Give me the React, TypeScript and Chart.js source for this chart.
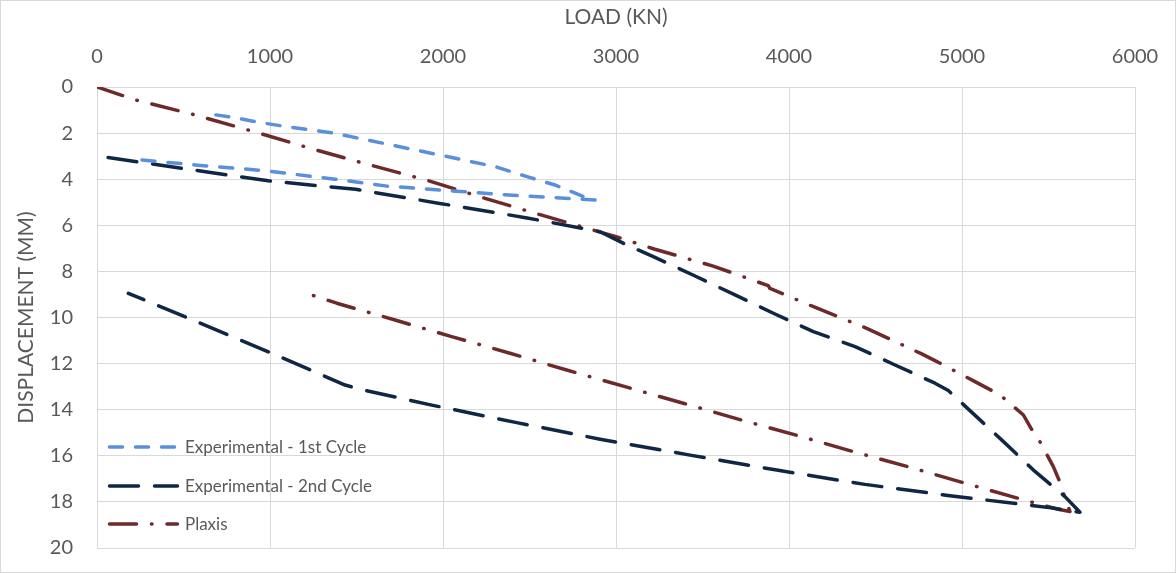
import React, { useEffect, useRef } from 'react';
import { Chart, registerables } from 'chart.js';

Chart.register(...registerables);

const X_TITLE = 'LOAD (KN)';
const Y_TITLE = 'DISPLACEMENT (MM)';
const X_TICKS = [0, 1000, 2000, 3000, 4000, 5000, 6000];
const Y_TICKS = [0, 2, 4, 6, 8, 10, 12, 14, 16, 18, 20];
const SERIES_NAMES = ['Experimental - 1st Cycle', 'Experimental - 2nd Cycle', 'Plaxis'];
const SERIES_COLORS = ['#5A8FDB', '#0F2744', '#6E2A2A'];
const SERIES_DASHES = [
  [13, 13],
  [29, 16],
  [27, 15, 0.5, 15],
];

// Experimental - 1st Cycle (load kN, displacement mm)
const cycle1Load = [687, 778, 933, 1096, 1375, 1981, 2304, 2486, 2647, 2850, 2880, 2647, 2466, 1981, 1677, 1375, 970, 566, 223];
const cycle1Disp = [1.21, 1.31, 1.53, 1.72, 2.01, 2.95, 3.46, 3.89, 4.25, 4.87, 4.9, 4.8, 4.73, 4.47, 4.3, 4.0, 3.63, 3.38, 3.14];

// Experimental - 2nd Cycle
const cycle2Load = [64, 990, 1495, 1981, 2486, 2908, 3062, 3225, 3457, 3688, 3919, 4141, 4382, 4613, 4844, 4921, 5046, 5229, 5413, 5595, 5682,
  5528, 4941, 4439, 3929, 3428, 2908, 2426, 1935, 1520, 1434, 1048, 576, 181];
const cycle2Disp = [3.06, 4.07, 4.44, 5.05, 5.68, 6.28, 6.85, 7.39, 8.2, 9.02, 9.85, 10.61, 11.26, 12.06, 12.85, 13.17, 14.04, 15.31, 16.62, 17.77, 18.45,
  18.27, 17.74, 17.24, 16.62, 15.97, 15.28, 14.56, 13.8, 13.11, 12.93, 11.67, 10.18, 8.95];

// Plaxis
const plaxisLoad = [0, 223, 566, 909, 1233, 1576, 1900, 2243, 2566, 2985, 3225, 3562, 3880, 3890, 4131, 4449, 4767, 4844, 4921, 5075, 5220, 5355, 5399, 5447, 5528, 5563, 5590, 5624,
  5555, 5393, 5056, 4719, 4391, 4058, 3726, 3389, 3052, 2715, 2387, 2050, 1723, 1386, 1222];
const plaxisDisp = [0, 0.56, 1.21, 1.94, 2.66, 3.38, 4.03, 4.83, 5.55, 6.46, 7.04, 7.77, 8.62, 8.74, 9.5, 10.47, 11.58, 11.87, 12.17, 12.78, 13.36, 14.23, 14.81, 15.34, 16.47, 17.09, 17.7, 18.42,
  18.32, 17.99, 17.27, 16.54, 15.86, 15.14, 14.45, 13.72, 13.0, 12.28, 11.55, 10.83, 10.11, 9.38, 8.98];

const SERIES_LOADS = [cycle1Load, cycle2Load, plaxisLoad];
const SERIES_DISPS = [cycle1Disp, cycle2Disp, plaxisDisp];

const FONT = 'Lato';
const TEXT_COLOR = '#595959';
const GRID_COLOR = '#D9D9D9';
const LINE_WIDTH = 3.5;

const legendPlugin = {
  id: 'insideLegend',
  afterDatasetsDraw(chart: any) {
    const ctx = chart.ctx;
    const rows = [447, 486, 524];
    ctx.save();
    SERIES_NAMES.forEach((name, i) => {
      const y = rows[i];
      ctx.beginPath();
      ctx.strokeStyle = SERIES_COLORS[i];
      ctx.lineWidth = LINE_WIDTH;
      ctx.lineCap = 'round';
      ctx.setLineDash(SERIES_DASHES[i]);
      ctx.moveTo(109.5, y);
      ctx.lineTo(177.5, y);
      ctx.stroke();
      ctx.setLineDash([]);
      ctx.fillStyle = TEXT_COLOR;
      ctx.font = `17px ${FONT}`;
      ctx.textBaseline = 'middle';
      ctx.textAlign = 'left';
      ctx.fillText(name, 185, y + 1);
    });
    ctx.restore();
  },
  afterDraw(chart: any) {
    const ctx = chart.ctx;
    ctx.save();
    ctx.strokeStyle = GRID_COLOR;
    ctx.lineWidth = 1;
    ctx.strokeRect(0.5, 0.5, chart.width - 1, chart.height - 1);
    ctx.restore();
  },
};

export default function App() {
  const canvasRef = useRef<HTMLCanvasElement | null>(null);

  useEffect(() => {
    document.body.style.margin = '0';
    const canvas = canvasRef.current;
    if (!canvas) return;
    const datasets = SERIES_NAMES.map((name, i) => ({
      label: name,
      data: SERIES_LOADS[i].map((x, k) => ({ x, y: SERIES_DISPS[i][k] })),
      borderColor: SERIES_COLORS[i],
      backgroundColor: SERIES_COLORS[i],
      borderWidth: LINE_WIDTH,
      borderDash: SERIES_DASHES[i],
      borderCapStyle: 'round' as const,
      borderJoinStyle: 'round' as const,
      pointRadius: 0,
      showLine: true,
      fill: false,
      tension: 0,
    }));
    const chart = new Chart(canvas, {
      type: 'line',
      data: { datasets },
      plugins: [legendPlugin],
      options: {
        animation: false,
        responsive: false,
        devicePixelRatio: 1,
        layout: { padding: { top: 0, left: 0, right: 41, bottom: 25 } },
        plugins: { legend: { display: false }, tooltip: { enabled: false } },
        scales: {
          x: {
            type: 'linear',
            position: 'top',
            min: 0,
            max: 6000,
            afterBuildTicks: (scale: any) => { scale.ticks = X_TICKS.map((v) => ({ value: v })); },
            afterFit: (scale: any) => { scale.height = 87; },
            grid: { color: GRID_COLOR, lineWidth: 1, drawTicks: true, tickLength: 18, tickColor: 'rgba(0,0,0,0)' },
            border: { color: GRID_COLOR },
            ticks: { color: TEXT_COLOR, font: { family: FONT, size: 20 }, padding: 0, maxRotation: 0, callback: (v: any) => String(v) },
            title: { display: true, text: X_TITLE, color: TEXT_COLOR, font: { family: FONT, size: 21 }, padding: { top: 5, bottom: 0 } },
          },
          y: {
            type: 'linear',
            reverse: true,
            min: 0,
            max: 20,
            afterBuildTicks: (scale: any) => { scale.ticks = Y_TICKS.map((v) => ({ value: v })); },
            afterFit: (scale: any) => { scale.width = 97; },
            grid: { color: GRID_COLOR, lineWidth: 1, drawTicks: true, tickLength: 24, tickColor: 'rgba(0,0,0,0)' },
            border: { color: GRID_COLOR },
            ticks: { color: TEXT_COLOR, font: { family: FONT, size: 20 }, padding: 0, callback: (v: any) => String(v) },
            title: { display: true, text: Y_TITLE, color: TEXT_COLOR, font: { family: FONT, size: 21 }, padding: { top: 14, bottom: 0 } },
          },
        },
      },
    });
    return () => chart.destroy();
  }, []);

  return (
    <div style={{ width: 1176, height: 573 }}>
      <canvas ref={canvasRef} width={1176} height={573} style={{ display: 'block' }} />
    </div>
  );
}
